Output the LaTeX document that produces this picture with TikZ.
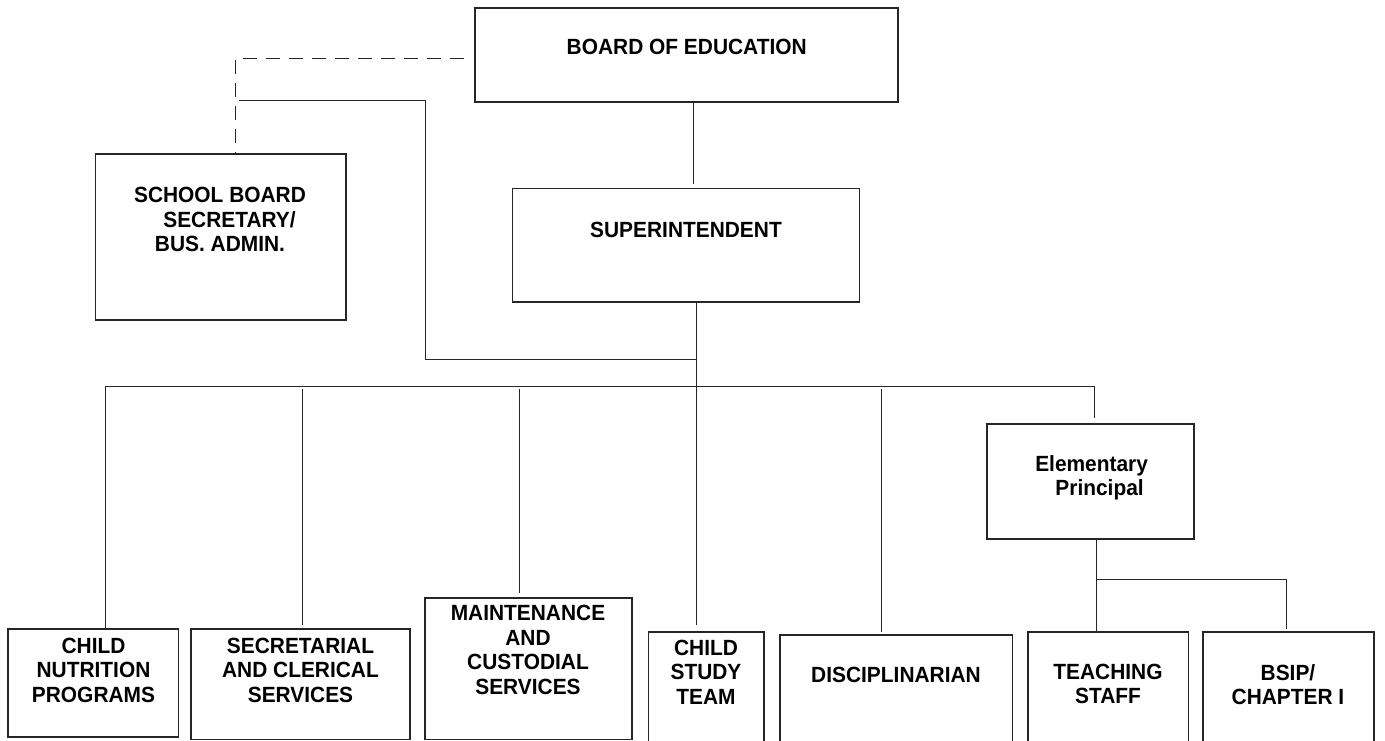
\documentclass[tikz,border=0pt]{standalone}
\usepackage{fontspec}
\newfontfamily\labfont{Liberation Sans}[FakeStretch=0.95]
\usetikzlibrary{calc}
\tikzset{
  box/.style={draw=black!85, line width=1.3pt, inner sep=0pt, outer sep=0pt, anchor=north west},
  lab/.style={font=\labfont\bfseries\fontsize{22}{24.5}\selectfont, align=center, inner sep=0pt},
  conn/.style={draw=black!85, line width=1pt},
  dashconn/.style={conn, dash pattern=on 14pt off 9pt}
}
\begin{document}
\begin{tikzpicture}[x=1pt,y=-1pt]
\useasboundingbox (0,0) rectangle (1385,741);
\clip (0,0) rectangle (1385,741);
\fill[white] (0,0) rectangle (1385,741);
% boxes
\node[box, minimum width=423pt, minimum height=94pt] (board) at (475,8) {};
\node[box, minimum width=250.5pt, minimum height=166pt] (school) at (95.5,154) {};
\node[box, minimum width=347pt, minimum height=113.3pt] (super) at (512.5,188.7) {};
\node[box, minimum width=207pt, minimum height=115pt] (ep) at (987,424) {};
\node[box, minimum width=170.6pt, minimum height=108pt] (cn) at (8,629) {};
\node[box, minimum width=219pt, minimum height=110.5pt] (sec) at (191,629) {};
\node[box, minimum width=207pt, minimum height=141.5pt] (mnt) at (425,598) {};
\node[box, minimum width=115.4pt, minimum height=130pt] (cst) at (648.6,632) {};
\node[box, minimum width=232.6pt, minimum height=130pt] (dis) at (780,635) {};
\node[box, minimum width=160.5pt, minimum height=130pt] (ts) at (1028,632) {};
\node[box, minimum width=171pt, minimum height=130pt] (bsip) at (1203,632) {};
% texts
\node[lab] (tboard) at (686.7,47) {BOARD OF EDUCATION};
\node[lab] (tsuper) at (686,230) {SUPERINTENDENT};
\node[lab] (tschool) at (220,219.5) {SCHOOL BOARD\\\hspace{19pt}SECRETARY/\\BUS. ADMIN.};
\node[lab] (tep) at (1091.6,478) {Elementary\\\hspace{16pt}Principal};
\node[lab] (tcn) at (93.5,670) {CHILD\\NUTRITION\\PROGRAMS};
\node[lab] (tsec) at (300.5,670) {SECRETARIAL\\AND CLERICAL\\SERVICES};
\node[lab] (tmnt) at (528,650) {MAINTENANCE\\AND\\CUSTODIAL\\SERVICES};
\node[lab] (tcst) at (706,672) {CHILD\\STUDY\\TEAM};
\node[lab] (tdis) at (896,675) {DISCIPLINARIAN};
\node[lab] (tts) at (1108,684) {TEACHING\\STAFF};
\node[lab] (tbsip) at (1288,684.5) {BSIP/\\CHAPTER I};
% helper coordinates
\coordinate (bx) at (693,0);
\coordinate (tx) at (696.5,0);
\coordinate (busL) at (105,386);
\coordinate (busR) at (1094,386);
\coordinate (secx) at (302,389);
\coordinate (mntx) at (519.3,389);
\coordinate (disx) at (881.8,389);
\coordinate (epx) at (1096,0);
\coordinate (br) at (1096,579);
\coordinate (bsx) at (1286,0);
\coordinate (dy) at (0,59);
\coordinate (dx) at (235,0);
\coordinate (s0) at (239,101);
\coordinate (s1) at (425,359);
% connectors
\draw[conn, shorten >=5pt] (board.south -| bx) -- (super.north -| bx);
\draw[conn, shorten >=7pt] (super.south -| tx) -- (cst.north -| tx);
\draw[conn, shorten >=6pt] (cn.north -| busL) |- (busR) -- (ep.north -| busR);
\draw[conn, shorten >=4pt] (secx) -- (sec.north -| secx);
\draw[conn, shorten >=5pt] (mntx) -- (mnt.north -| mntx);
\draw[conn, shorten >=3pt] (disx) -- (dis.north -| disx);
\draw[conn] (ep.south -| epx) -- (ts.north -| epx);
\draw[conn, shorten >=3pt] (br) -| (bsip.north -| bsx);
\draw[dashconn] ($(board.west |- dy)+(-11,0)$) -| (school.north -| dx);
\draw[conn] (s0) -| (s1) -- (s1 -| tx);
\end{tikzpicture}
\end{document}
